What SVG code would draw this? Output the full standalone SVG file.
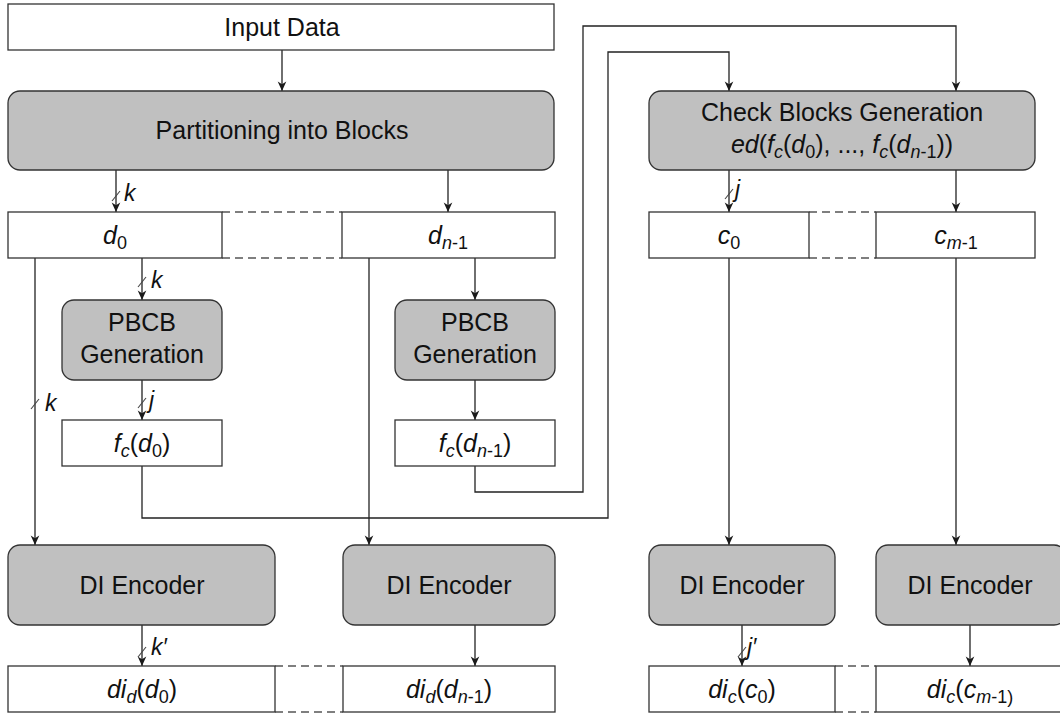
<svg xmlns="http://www.w3.org/2000/svg" width="1060" height="715" viewBox="0 0 1060 715">
  <defs>
    <marker id="arrow" markerWidth="11" markerHeight="11" refX="10" refY="5.5" orient="auto" markerUnits="userSpaceOnUse">
      <path d="M0.5,1.2 L10,5.5 L0.5,9.8 L3.2,5.5 z" fill="#1a1a1a"/>
    </marker>
    <style>
      .box { fill: #ffffff; stroke: #333333; stroke-width: 1.3; }
      .proc { fill: #c0c0c0; stroke: #333333; stroke-width: 1.3; }
      .lbl { font-family: "Liberation Sans", Arial, sans-serif; font-size: 25px; fill: #111111; text-anchor: middle; }
      .m { font-style: italic; }
      .sub { font-size: 18px; }
      .wire { fill: none; stroke: #222222; stroke-width: 1.3; }
      .arr { marker-end: url(#arrow); }
      .dash { fill: none; stroke: #555555; stroke-width: 1.3; stroke-dasharray: 8 5; }
      .slash { stroke: #444444; stroke-width: 1.1; }
      .bw { font-family: "Liberation Sans", Arial, sans-serif; font-size: 23px; font-style: italic; fill: #111111; }
    </style>
  </defs>

  <rect width="1060" height="715" fill="#ffffff"/>

  <!-- connectors -->
  <g id="connectors">
    <path class="wire arr" d="M282,50 V91"/>
    <path class="wire arr" d="M116,170 V212"/>
    <path class="wire arr" d="M448,170 V212"/>
    <path class="wire arr" d="M35,258 V545"/>
    <path class="wire arr" d="M142,258 V300"/>
    <path class="wire arr" d="M475,258 V300"/>
    <path class="wire arr" d="M142,380 V420"/>
    <path class="wire arr" d="M475,380 V420"/>
    <path class="wire arr" d="M142,466 V518 H608 V52 H729 V91"/>
    <path class="wire arr" d="M475,466 V492 H583 V26 H956 V91"/>
    <path class="wire arr" d="M369,258 V545"/>
    <path class="wire arr" d="M729,170 V212"/>
    <path class="wire arr" d="M956,170 V212"/>
    <path class="wire arr" d="M729,258 V545"/>
    <path class="wire arr" d="M956,258 V545"/>
    <path class="wire arr" d="M142,625 V666"/>
    <path class="wire arr" d="M475,625 V666"/>
    <path class="wire arr" d="M742,625 V666"/>
    <path class="wire arr" d="M970,625 V666"/>

    <!-- dashed continuation between block rows -->
    <path class="dash" d="M222,212 H342 M222,258 H342"/>
    <path class="dash" d="M809,212 H876 M809,258 H876"/>
    <path class="dash" d="M275,666 H343 M275,712 H343"/>
    <path class="dash" d="M835,666 H876 M835,712 H876"/>

    <!-- bus width marks -->
    <line class="slash" x1="112" y1="201" x2="120" y2="191"/>
    <text class="bw" x="124" y="201">k</text>
    <line class="slash" x1="138" y1="287" x2="146" y2="277"/>
    <text class="bw" x="151" y="288">k</text>
    <line class="slash" x1="31" y1="409" x2="39" y2="399"/>
    <text class="bw" x="45" y="411">k</text>
    <line class="slash" x1="138" y1="408" x2="146" y2="398"/>
    <text class="bw" x="149" y="408">j</text>
    <line class="slash" x1="725" y1="199" x2="733" y2="189"/>
    <text class="bw" x="735" y="197">j</text>
    <line class="slash" x1="138" y1="657" x2="146" y2="647"/>
    <text class="bw" x="151" y="655">k′</text>
    <line class="slash" x1="738" y1="657" x2="746" y2="647"/>
    <text class="bw" x="747" y="655">j′</text>
  </g>

  <g id="input-data">
    <rect class="box" x="8" y="4" width="546" height="46"/>
    <text class="lbl" x="282" y="36">Input Data</text>
  </g>

  <g id="partitioning">
    <rect class="proc" x="8" y="91" width="546" height="79" rx="12"/>
    <text class="lbl" x="282" y="139">Partitioning into Blocks</text>
  </g>

  <g id="check-blocks">
    <rect class="proc" x="649" y="91" width="386" height="79" rx="12"/>
    <text class="lbl" x="842" y="121">Check Blocks Generation</text>
    <text class="lbl" x="842" y="153"><tspan class="m">ed</tspan>(<tspan class="m">f</tspan><tspan class="m sub" dy="5">c</tspan><tspan dy="-5">(</tspan><tspan class="m">d</tspan><tspan class="sub" dy="5">0</tspan><tspan dy="-5">), ..., </tspan><tspan class="m">f</tspan><tspan class="m sub" dy="5">c</tspan><tspan dy="-5">(</tspan><tspan class="m">d</tspan><tspan class="sub" dy="5"><tspan class="m">n</tspan>-1</tspan><tspan dy="-5">))</tspan></text>
  </g>

  <g id="block-d0">
    <rect class="box" x="8" y="212" width="214" height="46"/>
    <text class="lbl" x="115" y="244"><tspan class="m">d</tspan><tspan class="sub" dy="5">0</tspan></text>
  </g>

  <g id="block-dn1">
    <rect class="box" x="342" y="212" width="213" height="46"/>
    <text class="lbl" x="448" y="244"><tspan class="m">d</tspan><tspan class="sub" dy="5"><tspan class="m">n</tspan>-1</tspan></text>
  </g>

  <g id="block-c0">
    <rect class="box" x="649" y="212" width="160" height="46"/>
    <text class="lbl" x="729" y="244"><tspan class="m">c</tspan><tspan class="sub" dy="5">0</tspan></text>
  </g>

  <g id="block-cm1">
    <rect class="box" x="876" y="212" width="159" height="46"/>
    <text class="lbl" x="956" y="244"><tspan class="m">c</tspan><tspan class="sub" dy="5"><tspan class="m">m</tspan>-1</tspan></text>
  </g>

  <g id="pbcb-0">
    <rect class="proc" x="62" y="300" width="160" height="80" rx="12"/>
    <text class="lbl" x="142" y="331">PBCB</text>
    <text class="lbl" x="142" y="363">Generation</text>
  </g>

  <g id="pbcb-n1">
    <rect class="proc" x="395" y="300" width="160" height="80" rx="12"/>
    <text class="lbl" x="475" y="331">PBCB</text>
    <text class="lbl" x="475" y="363">Generation</text>
  </g>

  <g id="fc-d0">
    <rect class="box" x="62" y="420" width="160" height="46"/>
    <text class="lbl" x="142" y="452"><tspan class="m">f</tspan><tspan class="m sub" dy="5">c</tspan><tspan dy="-5">(</tspan><tspan class="m">d</tspan><tspan class="sub" dy="5">0</tspan><tspan dy="-5">)</tspan></text>
  </g>

  <g id="fc-dn1">
    <rect class="box" x="395" y="420" width="160" height="46"/>
    <text class="lbl" x="475" y="452"><tspan class="m">f</tspan><tspan class="m sub" dy="5">c</tspan><tspan dy="-5">(</tspan><tspan class="m">d</tspan><tspan class="sub" dy="5"><tspan class="m">n</tspan>-1</tspan><tspan dy="-5">)</tspan></text>
  </g>

  <g id="di-encoder-1">
    <rect class="proc" x="8" y="545" width="267" height="80" rx="12"/>
    <text class="lbl" x="142" y="594">DI Encoder</text>
  </g>

  <g id="di-encoder-2">
    <rect class="proc" x="343" y="545" width="212" height="80" rx="12"/>
    <text class="lbl" x="449" y="594">DI Encoder</text>
  </g>

  <g id="di-encoder-3">
    <rect class="proc" x="649" y="545" width="186" height="80" rx="12"/>
    <text class="lbl" x="742" y="594">DI Encoder</text>
  </g>

  <g id="di-encoder-4">
    <rect class="proc" x="876" y="545" width="190" height="80" rx="12"/>
    <text class="lbl" x="970" y="594">DI Encoder</text>
  </g>

  <g id="di-d0">
    <rect class="box" x="8" y="666" width="267" height="46"/>
    <text class="lbl" x="142" y="698"><tspan class="m">di</tspan><tspan class="m sub" dy="5">d</tspan><tspan dy="-5">(</tspan><tspan class="m">d</tspan><tspan class="sub" dy="5">0</tspan><tspan dy="-5">)</tspan></text>
  </g>

  <g id="di-dn1">
    <rect class="box" x="343" y="666" width="212" height="46"/>
    <text class="lbl" x="449" y="698"><tspan class="m">di</tspan><tspan class="m sub" dy="5">d</tspan><tspan dy="-5">(</tspan><tspan class="m">d</tspan><tspan class="sub" dy="5"><tspan class="m">n</tspan>-1</tspan><tspan dy="-5">)</tspan></text>
  </g>

  <g id="di-c0">
    <rect class="box" x="649" y="666" width="186" height="46"/>
    <text class="lbl" x="742" y="698"><tspan class="m">di</tspan><tspan class="m sub" dy="5">c</tspan><tspan dy="-5">(</tspan><tspan class="m">c</tspan><tspan class="sub" dy="5">0</tspan><tspan dy="-5">)</tspan></text>
  </g>

  <g id="di-cm1">
    <rect class="box" x="876" y="666" width="190" height="46"/>
    <text class="lbl" x="970" y="698"><tspan class="m">di</tspan><tspan class="m sub" dy="5">c</tspan><tspan dy="-5">(</tspan><tspan class="m">c</tspan><tspan class="sub" dy="5"><tspan class="m">m</tspan>-1)</tspan></text>
  </g>
</svg>
